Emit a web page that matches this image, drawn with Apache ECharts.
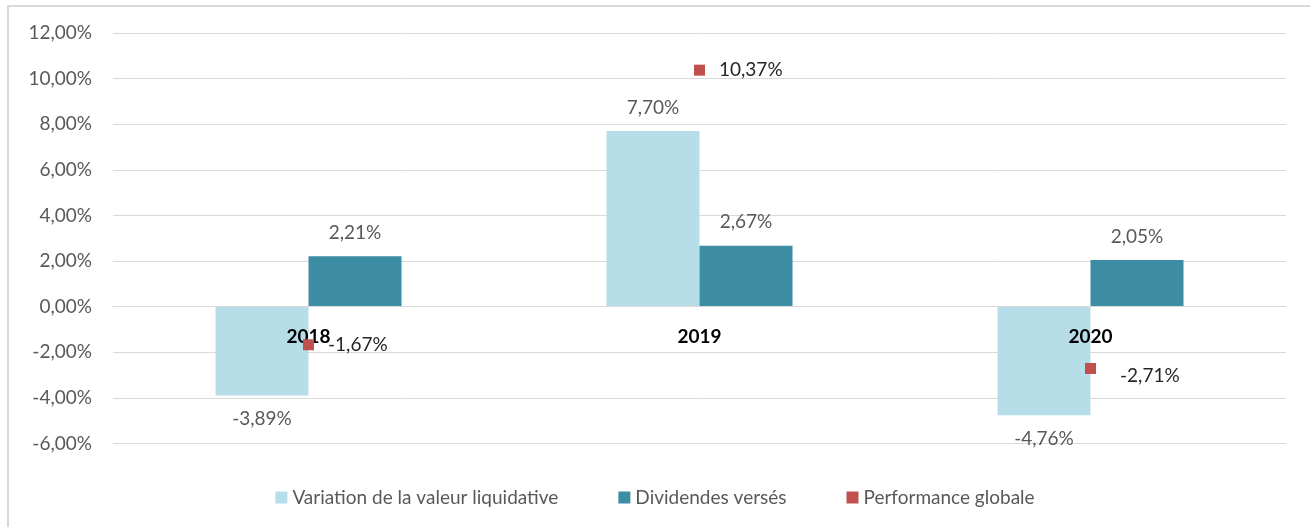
<!DOCTYPE html>
<html>
<head>
<meta charset="utf-8">
<script src="https://cdn.jsdelivr.net/npm/echarts@6/dist/echarts.min.js"></script>
<style>
  html, body { margin: 0; padding: 0; background: #fff; }
  .frame {
    position: absolute; left: 7px; top: 5px; width: 1310px; height: 530px;
    border-top: 2px solid #d9d9d9; border-left: 2px solid #d9d9d9;
  }
  #chart { position: absolute; left: 0; top: 0; width: 1310px; height: 527px; }
</style>
</head>
<body>
<div class="frame"></div>
<div id="chart"></div>
<script>
// années
const years = ['2018', '2019', '2020'];
// valeurs en %
const variationVL = [-3.89, 7.70, -4.76];
const dividendes = [2.21, 2.67, 2.05];
const performance = [-1.67, 10.37, -2.71];

const fmt = (v) => v.toFixed(2).replace('.', ',') + '%';
const FONT = 'Lato';

// étiquette au-dessus ou en dessous selon le signe
const barData = (arr) =>
  arr.map((v) => ({
    value: v,
    label: { position: v < 0 ? 'bottom' : 'top' },
  }));

const myChart = echarts.init(document.getElementById('chart'));
const option = {
  textStyle: { fontFamily: FONT },
  animation: false,
  grid: { left: 113, right: 24, top: 33, bottom: 83.5 },
  legend: {
    left: 'center',
    top: 483,
    itemGap: 60,
    itemWidth: 12,
    itemHeight: 12,
    textStyle: { color: '#595959', fontSize: 19, fontFamily: FONT },
    data: [
      { name: 'Variation de la valeur liquidative', icon: 'rect' },
      { name: 'Dividendes versés', icon: 'rect' },
      { name: 'Performance globale', icon: 'rect' },
    ],
  },
  xAxis: {
    type: 'category',
    data: years,
    // axe placé sur la ligne 0 (6 % au-dessus du bas de la grille)
    offset: -136.8,
    z: 3,
    axisTick: { show: false },
    axisLine: { onZero: false, lineStyle: { color: '#d9d9d9', width: 1 } },
    axisLabel: {
      color: '#000',
      fontWeight: 'bold',
      fontSize: 19,
      margin: 21,
      fontFamily: FONT,
    },
  },
  yAxis: {
    type: 'value',
    min: -6,
    max: 12,
    interval: 2,
    axisLine: { show: false },
    axisTick: { show: false },
    splitLine: { lineStyle: { color: '#d9d9d9', width: 1 } },
    axisLabel: {
      color: '#595959',
      fontSize: 19,
      margin: 21,
      fontFamily: FONT,
      formatter: (v) => fmt(v),
    },
  },
  series: [
    {
      name: 'Variation de la valeur liquidative',
      type: 'bar',
      barWidth: 93,
      barGap: '0%',
      itemStyle: { color: '#b6dde8' },
      label: {
        show: true,
        distance: 14,
        color: '#595959',
        fontSize: 19,
        fontFamily: FONT,
        formatter: (p) => fmt(p.value),
      },
      data: barData(variationVL),
    },
    {
      name: 'Dividendes versés',
      type: 'bar',
      barWidth: 93,
      barGap: '0%',
      itemStyle: { color: '#3c8ca4' },
      label: {
        show: true,
        distance: 14,
        color: '#595959',
        fontSize: 19,
        fontFamily: FONT,
        formatter: (p) => fmt(p.value),
      },
      data: barData(dividendes),
    },
    {
      name: 'Performance globale',
      type: 'scatter',
      symbol: 'rect',
      symbolSize: 11,
      itemStyle: { color: '#c0504d', opacity: 1 },
      z: 5,
      label: {
        show: true,
        position: 'right',
        distance: 14,
        color: '#262626',
        fontSize: 19,
        fontFamily: FONT,
        formatter: (p) => fmt(Array.isArray(p.value) ? p.value[1] : p.value),
      },
      data: performance.map((v, i) =>
        i === 2 ? { value: v, label: { offset: [10, 7] } } : v
      ),
    },
  ],
};
myChart.setOption(option);
</script>
</body>
</html>
